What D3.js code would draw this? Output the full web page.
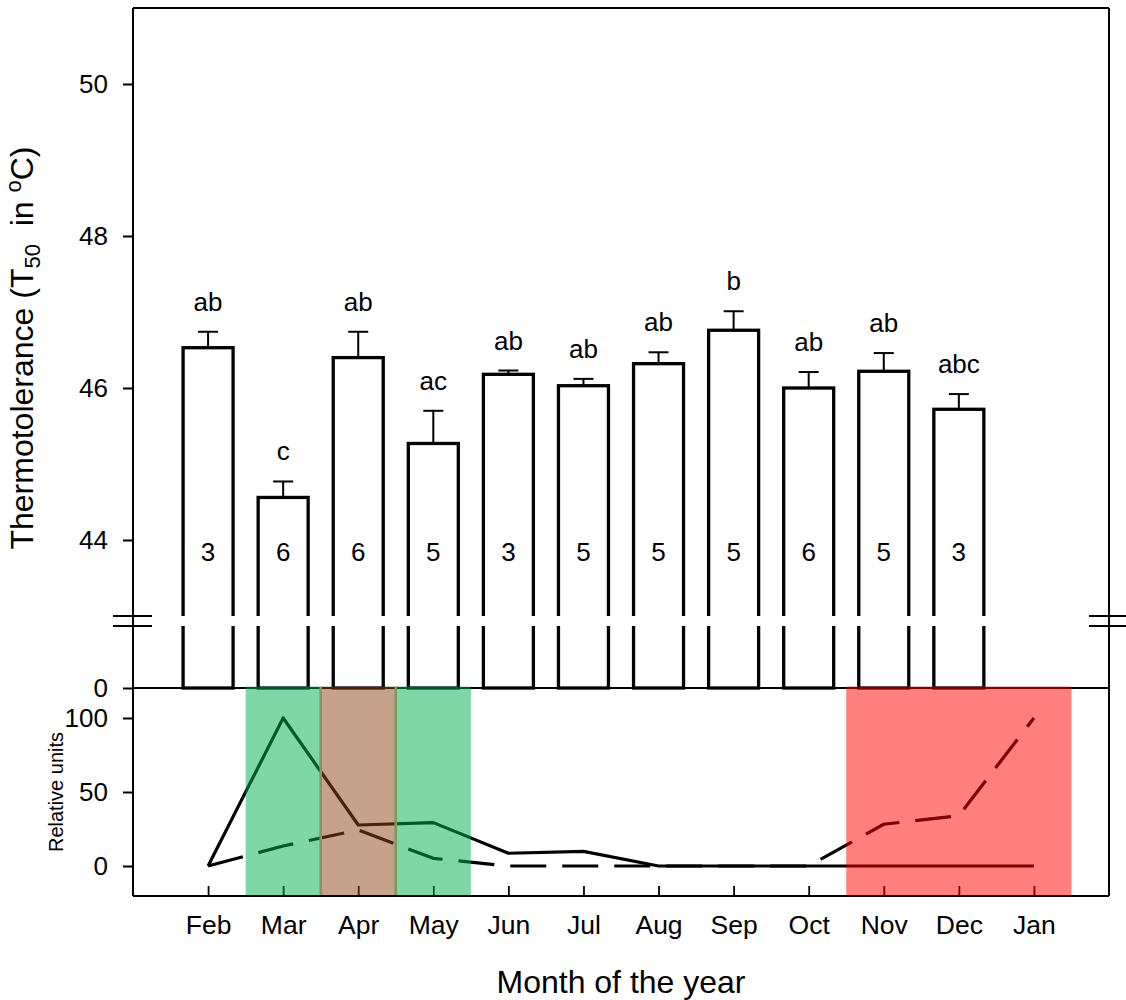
<!DOCTYPE html>
<html>
<head>
<meta charset="utf-8">
<script src="https://cdn.jsdelivr.net/npm/d3@7"></script>
<style>
  html, body { margin: 0; padding: 0; background: #fff; }
  svg { display: block; font-family: "Liberation Sans", Arial, Helvetica, sans-serif; }
</style>
</head>
<body>
<svg id="chart" width="1126" height="1000"></svg>
<script>
// Months on the x axis (Feb through Jan)
const months = ["Feb", "Mar", "Apr", "May", "Jun", "Jul", "Aug", "Sep", "Oct", "Nov", "Dec", "Jan"];

// Thermotolerance (T50, °C): monthly means and standard errors (Feb–Dec)
const barMonths = ["Feb", "Mar", "Apr", "May", "Jun", "Jul", "Aug", "Sep", "Oct", "Nov", "Dec"];
const t50Mean = [46.53, 44.56, 46.40, 45.27, 46.18, 46.03, 46.32, 46.76, 46.00, 46.22, 45.72];
const t50SE   = [0.21, 0.21, 0.34, 0.43, 0.05, 0.09, 0.15, 0.25, 0.21, 0.24, 0.20];
const groupLetters = ["ab", "c", "ab", "ac", "ab", "ab", "ab", "b", "ab", "ab", "abc"];
const sampleN = [3, 6, 6, 5, 3, 5, 5, 5, 6, 5, 3];

// Upper-panel y ticks
const upperTicks = [44, 46, 48, 50];
// Lower-panel series (relative units)
const solidSeries  = [0, 100, 27.7, 29.3, 8.6, 9.9, 0, 0, 0, 0, 0, 0];
const dashedSeries = [0, 13.5, 24.3, 5.2, 0, 0, 0, 0, 0, 28.2, 34, 100];
const lowerTicks = [0, 50, 100];

// Seasonal shading: first month, last month, colour
const seasonStart = ["Mar", "Apr", "May", "Nov"];
const seasonEnd   = ["Mar", "Apr", "May", "Jan"];
const seasonFill  = ["rgba(0,176,80,0.5)", "rgba(139,69,19,0.5)", "rgba(0,176,80,0.5)", "rgba(255,0,0,0.5)"];

const svg = d3.select("#chart");
const plotL = 133, plotR = 1109, plotT = 8;
const breakHi = 616, breakLo = 626, zeroY = 688, plotB = 896;

const x = d3.scalePoint().domain(months).range([plotL, plotR]).padding(1);
const step = x.step();
const yTop = d3.scaleLinear().domain([43, 51]).range([breakHi, plotT]);
const yBot = d3.scaleLinear().domain([0, 100]).range([866, 718]);

const barW = 50;

// Bars (drawn down to zero, interrupted by the axis break)
const bars = svg.append("g");
barMonths.forEach((m, i) => {
  bars.append("rect")
    .attr("x", x(m) - barW / 2)
    .attr("y", yTop(t50Mean[i]))
    .attr("width", barW)
    .attr("height", zeroY - yTop(t50Mean[i]))
    .attr("fill", "#fff")
    .attr("stroke", "#000")
    .attr("stroke-width", 3.3);
});

// Error bars (upper arm only), letters and sample sizes
barMonths.forEach((m, i) => {
  const cx = x(m);
  const y0 = yTop(t50Mean[i]), y1 = yTop(t50Mean[i] + t50SE[i]);
  bars.append("line").attr("x1", cx).attr("x2", cx).attr("y1", y0).attr("y2", y1)
    .attr("stroke", "#000").attr("stroke-width", 2);
  bars.append("line").attr("x1", cx - 10).attr("x2", cx + 10).attr("y1", y1).attr("y2", y1)
    .attr("stroke", "#000").attr("stroke-width", 2);
  bars.append("text").attr("x", cx).attr("y", y1 - 21)
    .attr("text-anchor", "middle").attr("font-size", 26).text(groupLetters[i]);
  bars.append("text").attr("x", cx).attr("y", yTop(43.72))
    .attr("text-anchor", "middle").attr("font-size", 26).text(sampleN[i]);
});

// Break gap
svg.append("rect").attr("x", plotL + 1).attr("y", breakHi).attr("width", plotR - plotL - 2)
  .attr("height", breakLo - breakHi).attr("fill", "#fff");

// Frame lines
const frame = svg.append("g").attr("stroke", "#000").attr("stroke-width", 2).attr("fill", "none");
frame.append("line").attr("x1", plotL).attr("x2", plotR).attr("y1", plotT).attr("y2", plotT);
frame.append("line").attr("x1", plotL).attr("x2", plotL).attr("y1", plotT).attr("y2", plotB);
frame.append("line").attr("x1", plotR).attr("x2", plotR).attr("y1", plotT).attr("y2", plotB);
frame.append("line").attr("x1", plotL).attr("x2", plotR).attr("y1", zeroY).attr("y2", zeroY);

// Break marks
[breakHi, breakLo].forEach(by => {
  frame.append("line").attr("x1", 113).attr("x2", 152).attr("y1", by).attr("y2", by);
  frame.append("line").attr("x1", 1089).attr("x2", 1130).attr("y1", by).attr("y2", by);
});

function styleAxis(g, size) {
  g.select(".domain").remove();
  g.selectAll(".tick line").attr("stroke", "#000").attr("stroke-width", 2);
  g.selectAll(".tick text").attr("fill", "#000").attr("font-size", size)
    .attr("font-family", "Liberation Sans, Arial, sans-serif");
}

// Upper y axis
svg.append("g").attr("transform", `translate(${plotL},0)`)
  .call(d3.axisLeft(yTop).tickValues(upperTicks).tickSize(10).tickPadding(15))
  .call(g => styleAxis(g, 26));

// Zero of the upper panel
const yZero = d3.scaleLinear().domain([0, 1]).range([zeroY, zeroY - 1]);
svg.append("g").attr("transform", `translate(${plotL},0)`)
  .call(d3.axisLeft(yZero).tickValues([0]).tickFormat(d3.format("d")).tickSize(10).tickPadding(15))
  .call(g => styleAxis(g, 26));

// Lower y axis
svg.append("g").attr("transform", `translate(${plotL},0)`)
  .call(d3.axisLeft(yBot).tickValues(lowerTicks).tickFormat(d3.format("d")).tickSize(10).tickPadding(15))
  .call(g => styleAxis(g, 26));

// Lower panel lines
const line = d3.line().x((d, i) => x(months[i])).y(d => yBot(d));
svg.append("path").datum(solidSeries).attr("d", line)
  .attr("fill", "none").attr("stroke", "#000").attr("stroke-width", 3.2)
  .attr("stroke-linejoin", "round");
svg.append("path").datum(dashedSeries).attr("d", line)
  .attr("fill", "none").attr("stroke", "#000").attr("stroke-width", 3.2)
  .attr("stroke-dasharray", "36,16").attr("stroke-linejoin", "round");

// Month axis (ticks pointing inward)
svg.append("g").attr("transform", `translate(0,${plotB})`)
  .call(d3.axisBottom(x).tickSizeInner(-10).tickSizeOuter(0).tickPadding(19))
  .call(g => styleAxis(g, 26.5))
  .call(g => g.selectAll(".tick line").attr("stroke-width", 1.8));

// Seasonal shading over the lower panel
seasonStart.forEach((s, i) => {
  const x0 = x(s) - step / 2, x1 = x(seasonEnd[i]) + step / 2;
  svg.append("rect").attr("x", x0).attr("y", zeroY - 1.5)
    .attr("width", x1 - x0).attr("height", plotB - 1 - (zeroY - 1.5))
    .attr("fill", seasonFill[i]);
});
// Boundaries where two shaded seasons meet
seasonStart.forEach((s, i) => {
  if (i === 0) return;
  const prevEnd = months.indexOf(seasonEnd[i - 1]);
  if (months.indexOf(s) === prevEnd + 1) {
    const bx = x(s) - step / 2;
    svg.append("line").attr("x1", bx).attr("x2", bx).attr("y1", zeroY - 1.5).attr("y2", plotB - 1)
      .attr("stroke", "#7f995b").attr("stroke-width", 2.6);
  }
});

// Bottom frame line on top
svg.append("line").attr("x1", plotL).attr("x2", plotR).attr("y1", plotB).attr("y2", plotB)
  .attr("stroke", "#000").attr("stroke-width", 2);

// Axis titles
const yTitle = svg.append("text")
  .attr("transform", `translate(33,${(plotT + zeroY) / 2}) rotate(-90)`)
  .attr("text-anchor", "middle").attr("font-size", 32);
yTitle.append("tspan").text("Thermotolerance (T");
yTitle.append("tspan").attr("font-size", 22).attr("dy", 7).text("50");
yTitle.append("tspan").attr("dy", -7).text("\u00a0 in ");
yTitle.append("tspan").attr("font-size", 22).attr("dy", -12).text("o");
yTitle.append("tspan").attr("dy", 12).text("C)");

svg.append("text")
  .attr("transform", `translate(63,${(zeroY + plotB) / 2}) rotate(-90)`)
  .attr("text-anchor", "middle").attr("font-size", 20).text("Relative units");

svg.append("text").attr("x", (plotL + plotR) / 2).attr("y", 993)
  .attr("text-anchor", "middle").attr("font-size", 32).text("Month of the year");
</script>
</body>
</html>
